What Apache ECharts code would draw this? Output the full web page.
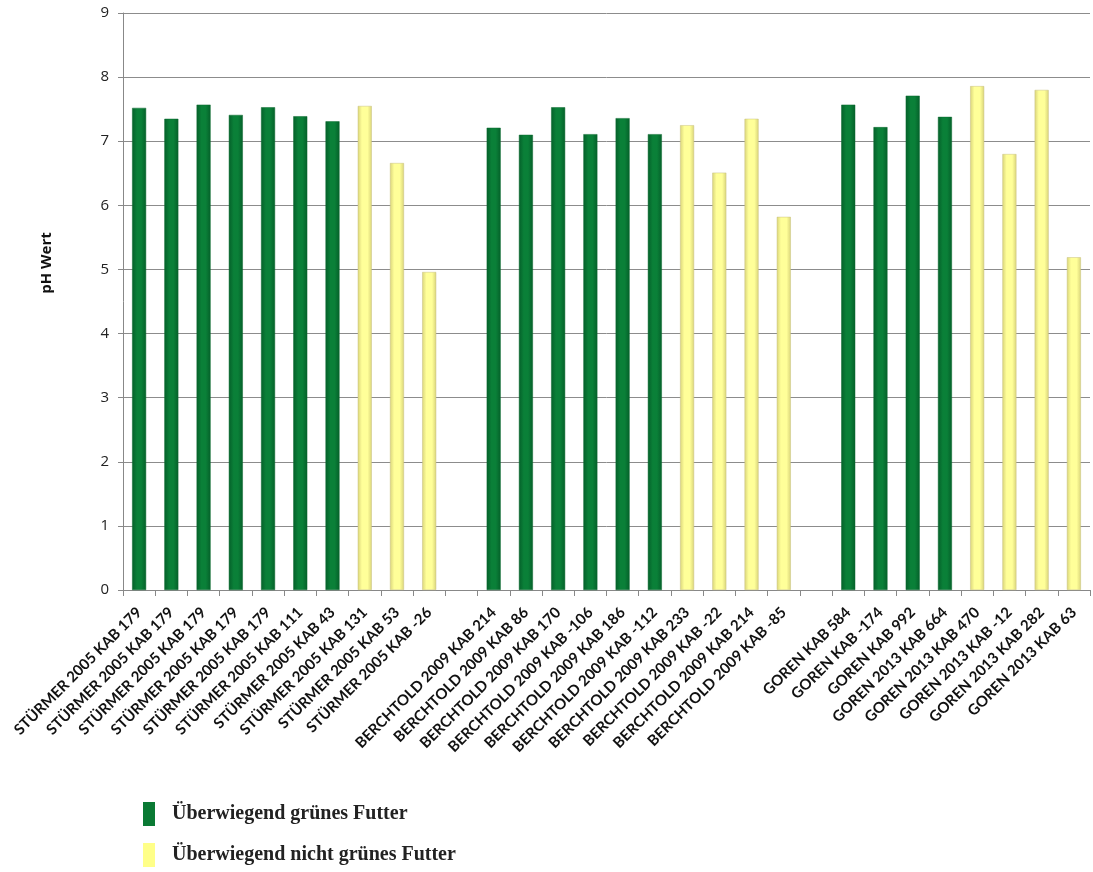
<!DOCTYPE html>
<html>
<head>
<meta charset="utf-8">
<script src="https://cdn.jsdelivr.net/npm/echarts@6/dist/echarts.min.js"></script>
<style>
  html, body { margin: 0; padding: 0; background: #fff; }
  #chart { width: 1093px; height: 872px; }
</style>
</head>
<body>
<div id="chart"></div>
<script>
// categories, '' marks the gap between the three studies
var categories = [
  'STÜRMER 2005 KAB 179', 'STÜRMER 2005 KAB 179', 'STÜRMER 2005 KAB 179', 'STÜRMER 2005 KAB 179',
  'STÜRMER 2005 KAB 179', 'STÜRMER 2005 KAB 111', 'STÜRMER 2005 KAB 43', 'STÜRMER 2005 KAB 131',
  'STÜRMER 2005 KAB 53', 'STÜRMER 2005 KAB -26',
  '',
  'BERCHTOLD 2009 KAB 214', 'BERCHTOLD 2009 KAB 86', 'BERCHTOLD 2009 KAB 170', 'BERCHTOLD 2009 KAB -106',
  'BERCHTOLD 2009 KAB 186', 'BERCHTOLD 2009 KAB -112', 'BERCHTOLD 2009 KAB 233', 'BERCHTOLD 2009 KAB -22',
  'BERCHTOLD 2009 KAB 214', 'BERCHTOLD 2009 KAB -85',
  '',
  'GOREN KAB 584', 'GOREN KAB -174', 'GOREN KAB 992', 'GOREN 2013 KAB 664',
  'GOREN 2013 KAB 470', 'GOREN 2013 KAB -12', 'GOREN 2013 KAB 282', 'GOREN 2013 KAB 63'
];

var greenFeed = [
  7.52, 7.35, 7.57, 7.41, 7.53, 7.39, 7.31, null, null, null,
  null,
  7.21, 7.10, 7.53, 7.11, 7.36, 7.11, null, null, null, null,
  null,
  7.57, 7.22, 7.71, 7.38, null, null, null, null
];

var otherFeed = [
  null, null, null, null, null, null, null, 7.55, 6.66, 4.96,
  null,
  null, null, null, null, null, null, 7.25, 6.51, 7.35, 5.82,
  null,
  null, null, null, null, 7.86, 6.80, 7.80, 5.19
];

var seriesNames = ['Überwiegend grünes Futter', 'Überwiegend nicht grünes Futter'];
var yTicks = { min: 0, max: 9, interval: 1 };

var chart = echarts.init(document.getElementById('chart'));

var greenFill = new echarts.graphic.LinearGradient(0, 0, 1, 0, [
  { offset: 0, color: '#05602a' },
  { offset: 0.35, color: '#0a8038' },
  { offset: 0.65, color: '#0a8038' },
  { offset: 1, color: '#05602a' }
]);
var yellowFill = new echarts.graphic.LinearGradient(0, 0, 1, 0, [
  { offset: 0, color: '#d9d47a' },
  { offset: 0.3, color: '#ffff99' },
  { offset: 0.7, color: '#ffff99' },
  { offset: 1, color: '#d9d47a' }
]);

function legendAt(top, name, color) {
  return {
    left: 138,
    top: top,
    itemWidth: 12,
    itemHeight: 24,
    icon: 'rect',
    textStyle: {
      fontFamily: 'Liberation Serif',
      fontWeight: 'bold',
      fontSize: 20,
      color: '#222',
      padding: [0, 0, 0, 12]
    },
    data: [{ name: name, itemStyle: { color: color, borderWidth: 0 } }]
  };
}

var option = {
  backgroundColor: '#ffffff',
  animation: false,
  grid: { left: 123, right: 3, top: 13, bottom: 282 },
  legend: [
    legendAt(797, seriesNames[0], '#0a7a34'),
    legendAt(838, seriesNames[1], '#ffff88')
  ],
  graphic: [{
    type: 'text',
    x: 47,
    y: 263,
    rotation: Math.PI / 2,
    style: {
      text: 'pH Wert',
      fontFamily: 'Open Sans',
      fontWeight: 'bold',
      fontSize: 15,
      fill: '#111',
      align: 'center',
      verticalAlign: 'middle'
    }
  }],
  xAxis: {
    type: 'category',
    data: categories,
    axisLine: { lineStyle: { color: '#888', width: 1 } },
    axisTick: { show: true, alignWithLabel: false, length: 6, lineStyle: { color: '#888' } },
    axisLabel: {
      interval: 0,
      rotate: 45,
      margin: 20,
      fontFamily: 'Lato',
      fontWeight: 'bold',
      fontSize: 15,
      color: '#111'
    }
  },
  yAxis: {
    type: 'value',
    min: yTicks.min,
    max: yTicks.max,
    interval: yTicks.interval,
    axisLine: { show: true, lineStyle: { color: '#888' } },
    axisTick: { show: true, length: 5, lineStyle: { color: '#888' } },
    axisLabel: { fontFamily: 'Open Sans', fontSize: 15, color: '#222', margin: 14 },
    splitLine: { show: true, lineStyle: { color: '#8c8c8c', width: 1 } }
  },
  series: [
    {
      name: seriesNames[0],
      type: 'bar',
      data: greenFeed,
      barWidth: 14,
      barGap: '-100%',
      itemStyle: { color: greenFill, borderColor: '#0c6a30', borderWidth: 0.5 }
    },
    {
      name: seriesNames[1],
      type: 'bar',
      data: otherFeed,
      barWidth: 14,
      barGap: '-100%',
      itemStyle: { color: yellowFill, borderColor: '#c8c080', borderWidth: 0.5 }
    }
  ]
};

chart.setOption(option);
</script>
</body>
</html>
